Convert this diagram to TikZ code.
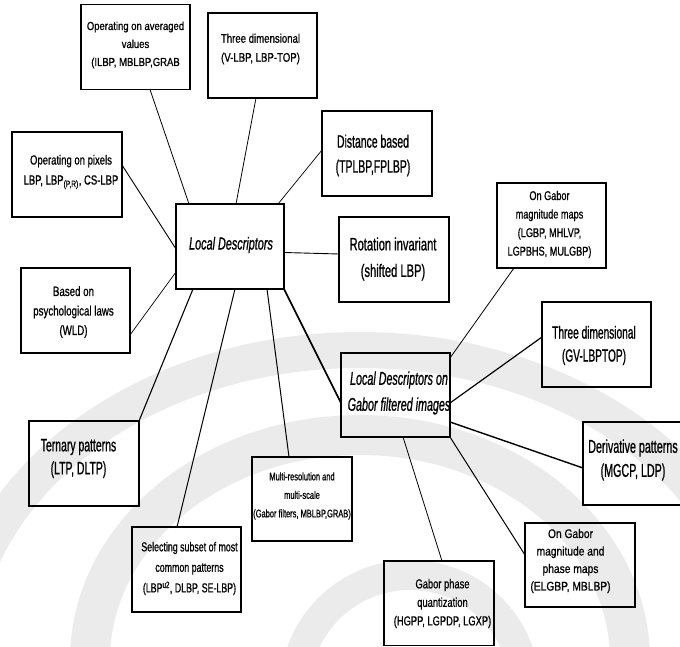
\documentclass[tikz,border=0pt]{standalone}
\usepackage{fontspec}
\setmainfont{Liberation Sans}
% condensed cuts of the sans face
\newfontfamily\fA{Liberation Sans}[FakeStretch=0.58,FakeBold=0.8]
\newfontfamily\fB{Liberation Sans}[FakeStretch=0.62,FakeBold=0.8]
\newfontfamily\fC{Liberation Sans}[FakeStretch=0.68,FakeBold=0.8]
\newfontfamily\fD{Liberation Sans}[FakeStretch=0.72,FakeBold=0.8]
\newfontfamily\fE{Liberation Sans}[FakeStretch=0.77,FakeBold=0.8]
\newfontfamily\fF{Liberation Sans}[FakeStretch=0.82,FakeBold=0.8]
\newcommand\fsz[2]{\fontsize{#1}{#2}\selectfont}

\tikzset{
  box/.style={draw, line width=1.5pt, inner sep=0pt, outer sep=0pt,
              minimum width=109pt, minimum height=85pt},
  lbl/.style={align=center, inner sep=0pt, text=black},
  link/.style={line width=0.8pt, line cap=round},
  wm/.style={draw=black!8, line width=36pt},
}

\begin{document}
\begin{tikzpicture}[x=1pt, y=-1pt]
\useasboundingbox (0,0) rectangle (680,647);
\clip (0,0) rectangle (680,647);

% faint watermark rings in the background
\draw[wm] (360,660) ellipse [x radius=400, y radius=310];
\draw[wm, line width=40pt] (360,660) ellipse [x radius=270, y radius=225];
\draw[wm, line width=30pt] (410,690) circle [radius=115];

% frames
\node[box] (b1)  at (135.5,47)   {};
\node[box] (b2)  at (262.5,55.5) {};
\node[box, minimum width=110pt] (b3)  at (67,174.5)  {};
\node[box, minimum width=110pt] (b4)  at (377,153.5) {};
\node[box, minimum width=108pt] (ld)  at (230,246.5) {};
\node[box, minimum width=110pt] (b6)  at (394,259.5) {};
\node[box] (b7)  at (551.5,225.5) {};
\node[box] (b8)  at (75.5,310.5) {};
\node[box] (b9)  at (596.5,344.5) {};
\node[box, minimum height=84pt] (gab) at (395.5,395) {};
\node[box, minimum height=83pt] (b11) at (637.5,463.5) {};
\node[box, minimum width=110pt] (b12) at (84,463.5) {};
\node[box, minimum width=100pt, minimum height=84pt] (b13) at (302,499) {};
\node[box] (b14) at (186.5,569.5) {};
\node[box, minimum width=110pt, minimum height=84pt] (b15) at (580,565) {};
\node[box, minimum width=110pt, minimum height=84.5pt] (b16) at (439,603.25) {};

% captions
\node[lbl, font=\fF\fsz{11.6}{18}] (t1) at (135.5,45)
  {Operating on averaged\\values\\(ILBP, MBLBP,GRAB};
\node[lbl, font=\fE\fsz{12.5}{19}] (t2) at (260.5,49)
  {Three dimensional\\(V-LBP, LBP-TOP)};
\node[lbl, font=\fD\fsz{13.2}{20}] (t3) at (71,172)
  {Operating on pixels\\LBP, LBP\textsubscript{(P,R)}, CS-LBP};
\node[lbl, font=\fA\fsz{18}{25}] (t4) at (373,155.5)
  {Distance based\\(TPLBP,FPLBP)};
\node[lbl, font=\fB\itshape\fsz{17.5}{22}] (tld) at (231,245)
  {Local Descriptors};
\node[lbl, font=\fB\fsz{18}{26.5}] (t6) at (393,259)
  {Rotation invariant\\(shifted LBP)};
\node[lbl, font=\fD\fsz{12.7}{18.5}] (t7) at (549.5,224.5)
  {On Gabor\\magnitude maps\\(LGBP, MHLVP,\\LGPBHS, MULGBP)};
\node[lbl, font=\fD\fsz{13.5}{19.5}] (t8) at (73.5,312)
  {Based on\\psychological laws\\(WLD)};
\node[lbl, font=\fA\fsz{17.5}{23}] (t9) at (594,345.5)
  {Three dimensional\\(GV-LBPTOP)};
\node[lbl, font=\fA\itshape\fsz{18.5}{26}] (tgab) at (399,393)
  {Local Descriptors on\\Gabor filtered images};
\node[lbl, font=\fA\fsz{18.5}{24}] (t11) at (633,460)
  {Derivative patterns\\(MGCP, LDP)};
\node[lbl, font=\fA\fsz{18}{23}] (t12) at (78.5,458.5)
  {Ternary patterns\\(LTP, DLTP)};
\node[lbl, font=\fC\fsz{11}{18.5}] (t13) at (302,496)
  {Multi-resolution and\\multi-scale\\(Gabor filters, MBLBP,GRAB)};
\node[lbl, font=\fC\fsz{13}{20.5}] (t14) at (189.5,568.5)
  {Selecting subset of most\\common patterns\\(LBP\textsuperscript{u2}, DLBP, SE-LBP)};
\node[lbl, font=\fF\fsz{12.5}{17.5}] (t15) at (570.5,561)
  {On Gabor\\magnitude and\\phase maps\\(ELGBP, MBLBP)};
\node[lbl, font=\fD\fsz{13}{18.5}] (t16) at (442.5,603.5)
  {Gabor phase\\quantization\\(HGPP, LGPDP, LGXP)};

% connectors around the central box
\draw[link] ([xshift=14.5pt]b1.south) -- ([xshift=13pt]ld.north west);
\draw[link] ([xshift=-6.5pt]b2.south) -- ([xshift=60pt]ld.north west);
\draw[link, line width=0.7pt] ([yshift=3.5pt]b4.west) -- ([xshift=-6pt]ld.north east);
\draw[link, line width=0.9pt] ([yshift=-6pt]ld.east) -- ([yshift=5.5pt]b6.west);
\draw[link, line width=0.9pt] ([yshift=9.5pt]b3.east) -- ([yshift=-2.5pt]ld.west);
\draw[link, line width=0.7pt] ([yshift=-24.5pt]b8.east) -- ([yshift=-25.5pt]ld.west);
\draw[link, line width=1.1pt] ([xshift=17pt]ld.south west) -- (b12.north east);
\draw[link, line width=1pt] ([xshift=59pt]ld.south west) -- ([xshift=-9.5pt]b14.north);
\draw[link, line width=1pt] ([xshift=91pt]ld.south west) -- ([xshift=-13pt]b13.north);
\draw[link, line width=1.6pt] (ld.south east) -- ([yshift=-8pt]gab.west);

% connectors around the Gabor box
\draw[link] ([yshift=-5pt]gab.north east) -- ([xshift=-37.5pt]b7.south);
\draw[link, line width=1.2pt] ([yshift=-8pt]gab.east) -- ([yshift=7.5pt]b9.west);
\draw[link, line width=1.4pt] ([yshift=-27pt]gab.east) -- ([yshift=-4.5pt]b11.west);
\draw[link] ([xshift=7.5pt]gab.south) -- ([xshift=3pt]b16.north);
\draw[link, line width=1pt] (gab.south east) -- ([yshift=10pt]b15.west);
\end{tikzpicture}
\end{document}
